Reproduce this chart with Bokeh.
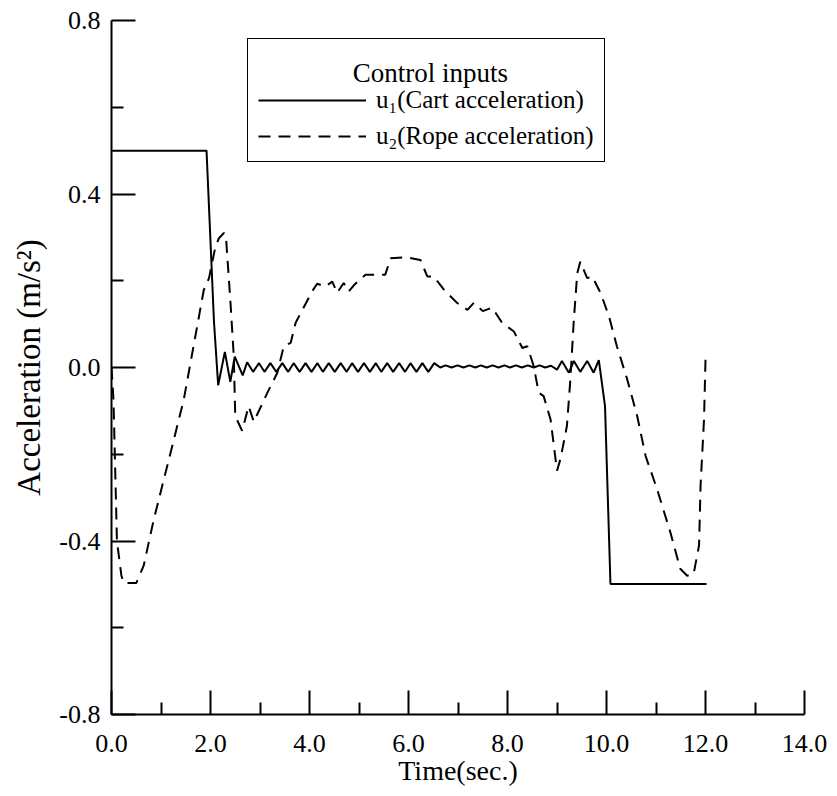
from bokeh.plotting import figure
from bokeh.models import Legend, LegendItem, FixedTicker, Range1d, Label
from bokeh.embed import file_html
from bokeh.resources import INLINE

# ---- data ----
t_u1 = [0.0, 1.92, 2.07, 2.155, 2.29, 2.40, 2.49, 2.65,
        2.74, 2.86, 2.98, 3.09, 3.21, 3.33, 3.45, 3.57, 3.68, 3.80, 3.92,
        4.04, 4.16, 4.27, 4.39, 4.51, 4.63, 4.75, 4.86, 4.98, 5.10, 5.22,
        5.34, 5.45, 5.57, 5.69, 5.81, 5.93, 6.04, 6.16, 6.28, 6.40, 6.52,
        6.64, 6.75, 6.87, 6.99, 7.11, 7.23, 7.35, 7.46, 7.58, 7.70, 7.82,
        7.94, 8.05, 8.17, 8.29, 8.41, 8.53, 8.65, 8.76, 8.88,
        9.00, 9.10, 9.24, 9.34, 9.47, 9.61, 9.74, 9.845, 9.97, 10.08, 12.02]
u1 = [0.5, 0.5, 0.106, -0.041, 0.036, -0.033, 0.025, -0.018,
      0.012, -0.010, 0.010, -0.010, 0.010, -0.010, 0.010, -0.010, 0.010, -0.010, 0.010,
      -0.010, 0.010, -0.010, 0.010, -0.010, 0.010, -0.010, 0.010, -0.010, 0.010, -0.010,
      0.010, -0.010, 0.010, -0.010, 0.010, -0.010, 0.010, -0.010, 0.010, -0.010, 0.010,
      0.000, 0.005, 0.000, 0.005, 0.000, 0.005, 0.000, 0.005, 0.000, 0.005, 0.000,
      0.005, 0.000, 0.005, 0.000, 0.005, 0.000, 0.005, 0.000, 0.004,
      -0.005, 0.015, -0.012, 0.015, -0.010, 0.015, -0.012, 0.017, -0.089, -0.499, -0.499]

t_u2 = [0.0, 0.04, 0.11, 0.20, 0.25, 0.50, 0.65, 0.855, 1.26, 1.46, 1.865, 1.97,
        2.10, 2.17, 2.27, 2.31, 2.40, 2.47, 2.50, 2.64, 2.77, 2.875, 3.15, 3.35,
        3.48, 3.62, 3.72, 4.05, 4.155, 4.32, 4.46, 4.56, 4.69, 4.79, 4.90, 5.13,
        5.53, 5.64, 5.97, 6.24, 6.38, 6.51, 6.72, 6.98, 7.19, 7.32, 7.50, 7.69,
        7.89, 8.13, 8.30, 8.40, 8.53, 8.63, 8.73, 8.87, 9.00, 9.07, 9.20, 9.27,
        9.34, 9.41, 9.47, 9.61, 9.71, 9.88, 10.05, 10.21, 10.42, 10.62, 10.79,
        11.02, 11.29, 11.49, 11.63, 11.76, 11.87, 11.90, 11.97, 12.0]
u2 = [0.0, -0.074, -0.40, -0.48, -0.497, -0.497, -0.457, -0.35, -0.166, -0.074, 0.179, 0.206,
      0.279, 0.298, 0.31, 0.305, 0.156, 0.026, -0.112, -0.146, -0.089, -0.125, -0.058, -0.012,
      0.049, 0.057, 0.103, 0.175, 0.193, 0.187, 0.198, 0.172, 0.195, 0.175, 0.19, 0.214,
      0.214, 0.252, 0.254, 0.248, 0.21, 0.21, 0.179, 0.149, 0.133, 0.149, 0.13, 0.138,
      0.103, 0.083, 0.045, 0.049, 0.003, -0.058, -0.066, -0.12, -0.238, -0.211, -0.135, -0.028,
      0.11, 0.218, 0.244, 0.206, 0.21, 0.172, 0.118, 0.049, -0.028, -0.112, -0.204,
      -0.28, -0.38, -0.464, -0.48, -0.476, -0.41, -0.273, -0.12, 0.018]

x_ticks = [0, 2, 4, 6, 8, 10, 12, 14]
x_labels = ["0.0", "2.0", "4.0", "6.0", "8.0", "10.0", "12.0", "14.0"]
x_minor = [1, 3, 5, 7, 9, 11, 13]
y_ticks = [-0.8, -0.4, 0.0, 0.4, 0.8]
y_labels = ["-0.8", "-0.4", "0.0", "0.4", "0.8"]
y_minor = [-0.6, -0.2, 0.2, 0.6]

legend_title = "Control inputs"
label_u1 = "u\u2081(Cart acceleration)"
label_u2 = "u\u2082(Rope acceleration)"
x_title = "Time(sec.)"
y_title = "Acceleration (m/s\u00b2)"

FONT = "'Liberation Serif', 'Times New Roman', serif"

p = figure(width=829, height=788, x_range=Range1d(0, 14), y_range=Range1d(-0.8, 0.8),
           output_backend="svg", toolbar_location=None,
           min_border_left=111, min_border_right=25, min_border_top=20, min_border_bottom=73)
p.outline_line_color = None
p.grid.visible = False
p.background_fill_color = "white"

r1 = p.line(t_u1, u1, line_color="black", line_width=2)
r2 = p.line(t_u2, u2, line_color="black", line_width=2, line_dash="12 8")

for ax in (p.xaxis[0], p.yaxis[0]):
    ax.axis_line_width = 2
    ax.axis_line_color = "black"
    ax.major_tick_line_width = 2
    ax.minor_tick_line_width = 2
    ax.major_tick_line_color = "black"
    ax.minor_tick_line_color = "black"
    ax.major_tick_in = 24
    ax.major_tick_out = 0
    ax.minor_tick_in = 12
    ax.minor_tick_out = 0
    ax.major_label_text_font = FONT
    ax.major_label_text_font_size = "26px"
    ax.major_label_text_color = "black"
    ax.axis_label_text_font = FONT
    ax.axis_label_text_font_style = "normal"
    ax.axis_label_text_color = "black"

p.xaxis[0].ticker = FixedTicker(ticks=x_ticks, minor_ticks=x_minor)
p.xaxis[0].major_label_overrides = {t: l for t, l in zip(x_ticks, x_labels)}
p.xaxis[0].axis_label = x_title
p.xaxis[0].axis_label_text_font_size = "28px"
p.xaxis[0].major_label_standoff = 20
p.xaxis[0].axis_label_standoff = 0

p.yaxis[0].ticker = FixedTicker(ticks=y_ticks, minor_ticks=y_minor)
p.yaxis[0].major_label_overrides = {t: l for t, l in zip(y_ticks, y_labels)}
p.yaxis[0].major_label_standoff = 11
p.yaxis[0].axis_label = y_title
p.yaxis[0].axis_label_text_font_size = "33px"
p.yaxis[0].axis_label_standoff = 9

legend = Legend(items=[LegendItem(label=label_u1, renderers=[r1]),
                       LegendItem(label=label_u2, renderers=[r2])],
                title="\u00a0",
                location=(136, 552))
legend.title_text_font = FONT
legend.title_text_font_size = "27px"
legend.title_text_font_style = "normal"
legend.title_standoff = 5
legend.label_text_font = FONT
legend.label_text_font_size = "25px"
legend.label_text_color = "black"
legend.border_line_color = "black"
legend.border_line_width = 1
legend.border_line_alpha = 1
legend.background_fill_alpha = 0
legend.glyph_width = 108
legend.glyph_height = 30
legend.label_height = 30
legend.label_standoff = 10
legend.padding = 10
legend.spacing = 6
legend.margin = 0
p.add_layout(legend)

# legend title, centred over the legend box
ltitle = Label(x=6.44, y=0.678, text=legend_title,
               text_align="center", text_baseline="middle",
               text_font=FONT, text_font_size="27px", text_color="black")
p.add_layout(ltitle)

open("out.html", "w").write(file_html(p, INLINE))
